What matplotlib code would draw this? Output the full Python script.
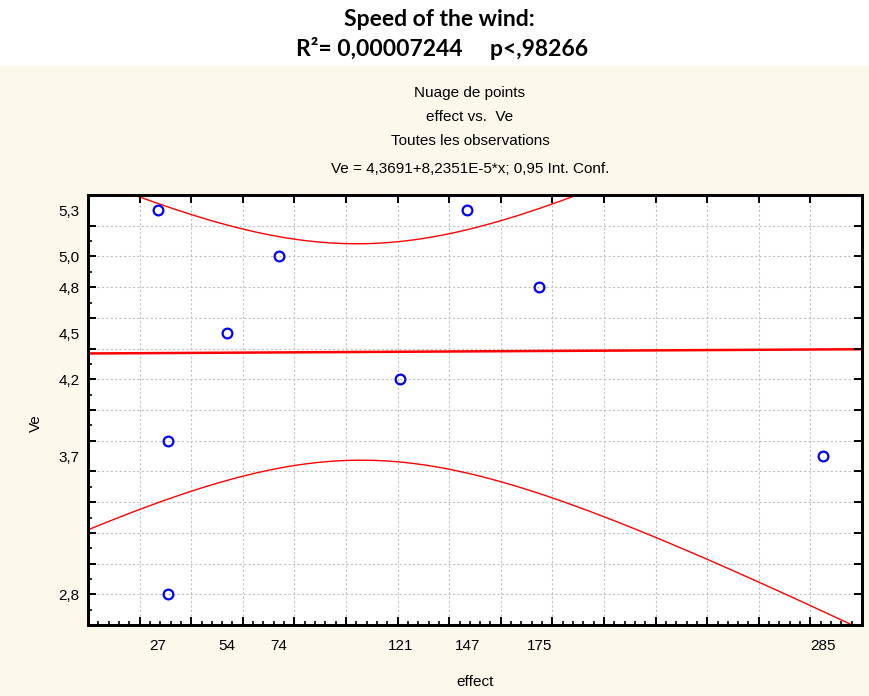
"""
Scatter of wind speed (Ve) against effect, with linear fit and 0.95 confidence band.
"""

import numpy as np
import matplotlib
matplotlib.use('Agg')
import matplotlib.pyplot as plt
from matplotlib.ticker import MultipleLocator

plt.rcParams['font.family'] = ['Liberation Sans', 'DejaVu Sans']
plt.rcParams['font.size'] = 11

# data
effect = np.array([27, 31, 31, 54, 74, 121, 147, 175, 285])
ve = np.array([5.3, 3.8, 2.8, 4.5, 5.0, 4.2, 5.3, 4.8, 3.7])

x_ticks = [27, 54, 74, 121, 147, 175, 285]
y_ticks = [2.8, 3.7, 4.2, 4.5, 4.8, 5.0, 5.3]

title_lines = ['Speed of the wind:', 'R\u00b2= 0,00007244     p<,98266']
sub_lines = ['Nuage de points', 'effect vs.  Ve', 'Toutes les observations',
             'Ve = 4,3691+8,2351E-5*x; 0,95 Int. Conf.']

PANEL = '#FDF8EC'
RED = '#FF0000'
BLUE = '#0000FF'


def fit_with_band(x, y, xs, t_crit=2.3646):
    """Least squares line and 95% confidence band for the mean (df = n-2 = 7)."""
    slope, intercept = np.polyfit(x, y, 1)
    n = len(x)
    resid = y - (intercept + slope * x)
    s = np.sqrt(np.sum(resid ** 2) / (n - 2))
    sxx = np.sum((x - x.mean()) ** 2)
    yhat = intercept + slope * xs
    hw = t_crit * s * np.sqrt(1.0 / n + (xs - x.mean()) ** 2 / sxx)
    return yhat, yhat - hw, yhat + hw


fig = plt.figure(figsize=(8.7, 6.96), dpi=100, facecolor='white')

# beige panel below the bold title
fig.patches.append(plt.Rectangle((0, 0), 1, 1 - 66 / 696, transform=fig.transFigure,
                                 facecolor=PANEL, edgecolor='none', zorder=-1))

fig.text(0.505, 1 - 20 / 696, title_lines[0], ha='center', va='center',
         fontsize=16.5, fontweight='bold', family=['Lato', 'DejaVu Sans'])
fig.text(0.508, 1 - 48 / 696, title_lines[1], ha='center', va='center',
         fontsize=16.5, fontweight='bold', family=['Lato', 'DejaVu Sans'])

for i, line in enumerate(sub_lines):
    ypix = [93, 117, 141, 169][i]
    fig.text(470 / 870, 1 - ypix / 696, line, ha='center', va='center', fontsize=11)

ax = fig.add_axes([88 / 870, 1 - 625 / 696, (862 - 88) / 870, (625 - 195) / 696])
ax.set_facecolor('white')
ax.set_xlim(0, 300)
ax.set_ylim(2.6, 5.4)

# dotted grid every 20 / 0.2
for gx in np.arange(20, 300, 20):
    ax.axvline(gx, color='#C0C0C0', linestyle=(0, (2, 2)), linewidth=0.8, zorder=0)
for gy in np.arange(2.8, 5.35, 0.2):
    ax.axhline(gy, color='#C0C0C0', linestyle=(0, (2, 2)), linewidth=0.8, zorder=0)

xs = np.linspace(0, 300, 400)
yhat, lo, hi = fit_with_band(effect.astype(float), ve, xs)
ax.plot(xs, yhat, color=RED, linewidth=1.8, zorder=2)
ax.plot(xs, lo, color=RED, linewidth=1.0, zorder=2)
ax.plot(xs, hi, color=RED, linewidth=1.0, zorder=2)

ax.plot(effect, ve, linestyle='none', marker='o', markersize=7, markerfacecolor='none',
        markeredgecolor=BLUE, markeredgewidth=1.6, zorder=3)

ax.set_xticks(x_ticks)
ax.set_xticklabels([str(v) for v in x_ticks])
ax.set_yticks(y_ticks)
ax.set_yticklabels([f'{v:.1f}'.replace('.', ',') for v in y_ticks])
ax.tick_params(axis='both', which='major', length=0, labelsize=11)
ax.tick_params(axis='x', which='major', pad=10)
ax.tick_params(axis='y', which='major', pad=6)
ax.xaxis.set_minor_locator(MultipleLocator(4))
ax.yaxis.set_minor_locator(MultipleLocator(0.1))
ax.tick_params(which='minor', direction='in', length=3, width=1.2,
               top=True, right=True, bottom=True, left=True)

# longer ticks at grid positions
ax_t = ax.twiny()
ax_t.set_xlim(ax.get_xlim())
ax_t.xaxis.set_major_locator(MultipleLocator(20))
ax_t.tick_params(axis='x', direction='in', length=6, width=1.4, top=True, bottom=True,
                 labeltop=False, labelbottom=False)
ax_r = ax.twinx()
ax_r.set_ylim(ax.get_ylim())
ax_r.yaxis.set_major_locator(MultipleLocator(0.2))
ax_r.tick_params(axis='y', direction='in', length=6, width=1.4, left=True, right=True,
                 labelleft=False, labelright=False)

for a in (ax, ax_t, ax_r):
    for sp in a.spines.values():
        sp.set_linewidth(1.8)
        sp.set_color('black')

ax.set_xlabel('effect', fontsize=11, labelpad=16)
ax.set_ylabel('Ve', fontsize=11)
ax.yaxis.set_label_coords(-0.058, 0.47)

fig.savefig('out.png', dpi=100, facecolor='white')
